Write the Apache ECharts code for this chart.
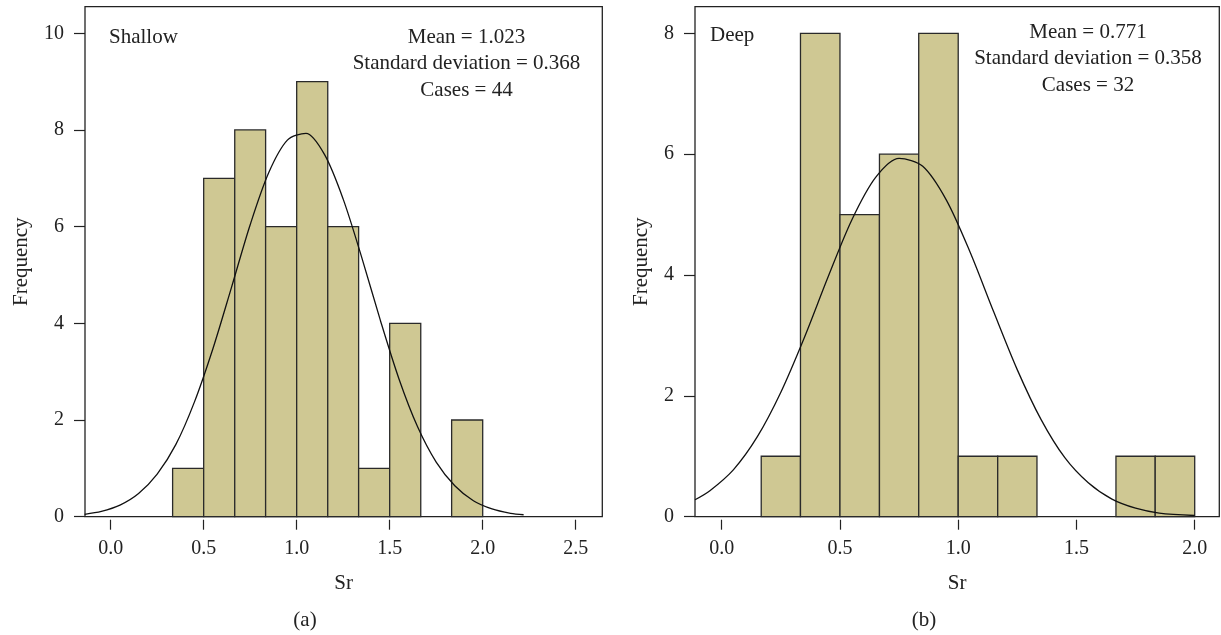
<!DOCTYPE html>
<html>
<head>
<meta charset="utf-8">
<script src="https://cdn.jsdelivr.net/npm/echarts@6/dist/echarts.min.js"></script>
<style>
html,body{margin:0;padding:0;background:#fff;}
#chart{width:1221px;height:635px;}
</style>
</head>
<body>
<div id="chart"></div>
<script>
// ---- Data ----
const xTicksShallow = [0.0, 0.5, 1.0, 1.5, 2.0, 2.5];
const yTicksShallow = [0, 2, 4, 6, 8, 10];
const xTicksDeep = [0.0, 0.5, 1.0, 1.5, 2.0];
const yTicksDeep = [0, 2, 4, 6, 8];

const shallowBinEdges = [0.333, 0.5, 0.667, 0.833, 1.0, 1.167, 1.333, 1.5, 1.667, 1.833, 2.0];
const shallowCounts   = [1, 7, 8, 6, 9, 6, 1, 4, 0, 2];

const deepBinEdges = [0.167, 0.333, 0.5, 0.667, 0.833, 1.0, 1.167, 1.333, 1.5, 1.667, 1.833, 2.0];
const deepCounts   = [1, 8, 5, 6, 8, 1, 1, 0, 0, 1, 1];

const shallowCurveX = [-0.14, -0.05, 0.05, 0.15, 0.25, 0.35, 0.45, 0.55, 0.65, 0.75, 0.85, 0.95, 1.05, 1.15, 1.25, 1.35, 1.45, 1.55, 1.65, 1.75, 1.85, 1.95, 2.05, 2.15, 2.22];
const shallowCurveY = [0.05, 0.11, 0.24, 0.48, 0.88, 1.49, 2.37, 3.48, 4.75, 6.04, 7.12, 7.79, 7.93, 7.49, 6.57, 5.36, 4.06, 2.85, 1.86, 1.13, 0.64, 0.33, 0.16, 0.07, 0.04];

const deepCurveX = [-0.113, -0.05, 0.05, 0.15, 0.25, 0.35, 0.45, 0.55, 0.65, 0.75, 0.85, 0.95, 1.05, 1.15, 1.25, 1.35, 1.45, 1.55, 1.65, 1.75, 1.85, 2.0];
const deepCurveY = [0.28, 0.43, 0.78, 1.32, 2.06, 2.97, 3.97, 4.91, 5.61, 5.93, 5.80, 5.24, 4.38, 3.39, 2.43, 1.61, 0.98, 0.56, 0.29, 0.14, 0.06, 0.02];

const shallowStats = ['Mean = 1.023', 'Standard deviation = 0.368', 'Cases = 44'];
const deepStats = ['Mean = 0.771', 'Standard deviation = 0.358', 'Cases = 32'];

// ---- Build ----
const FONT = '"Liberation Serif", "Times New Roman", serif';
const TXT = '#222';
const BAR_FILL = '#cfc893';
const BAR_EDGE = '#2a2a2a';

function histData(edges, counts) {
  const out = [];
  for (let i = 0; i < counts.length; i++) {
    if (counts[i] > 0) out.push([edges[i], edges[i + 1], counts[i]]);
  }
  return out;
}
function pairs(xs, ys) { return xs.map((x, i) => [x, ys[i]]); }

function renderHist(params, api) {
  const p0 = api.coord([api.value(0), 0]);
  const p1 = api.coord([api.value(1), api.value(2)]);
  return {
    type: 'rect',
    shape: { x: p0[0], y: p1[1], width: p1[0] - p0[0], height: p0[1] - p1[1] },
    style: { fill: BAR_FILL, stroke: BAR_EDGE, lineWidth: 1.3 }
  };
}

function xAxisCfg(gridIndex, min, max, ticks) {
  return {
    type: 'value', gridIndex, min, max, offset: 3,
    splitLine: { show: false },
    axisLine: { show: false, onZero: false },
    axisTick: { show: true, length: 10, customValues: ticks, lineStyle: { color: '#222', width: 1.2 } },
    axisLabel: { customValues: ticks, margin: 19, fontFamily: FONT, fontSize: 20, color: TXT,
                 formatter: v => v.toFixed(1) },
    name: 'Sr', nameLocation: 'middle', nameGap: 53,
    nameTextStyle: { fontFamily: FONT, fontSize: 21, color: TXT }
  };
}
function yAxisCfg(gridIndex, max, ticks, nameGap) {
  return {
    type: 'value', gridIndex, min: 0, max,
    splitLine: { show: false },
    axisLine: { show: false, onZero: false },
    axisTick: { show: true, length: 11, customValues: ticks, lineStyle: { color: '#222', width: 1.2 } },
    axisLabel: { customValues: ticks, margin: 21, fontFamily: FONT, fontSize: 20, color: TXT },
    name: 'Frequency', nameLocation: 'middle', nameGap, nameRotate: 90,
    nameTextStyle: { fontFamily: FONT, fontSize: 21, color: TXT }
  };
}

function textEl(text, x, y, align) {
  return { type: 'text', x, y, silent: true,
    style: { text, fill: TXT, font: '21px ' + FONT, textAlign: align, textVerticalAlign: 'middle' } };
}

const graphics = [
  textEl('Shallow', 109, 37, 'left'),
  textEl(shallowStats[0], 466.5, 37, 'center'),
  textEl(shallowStats[1], 466.5, 63.5, 'center'),
  textEl(shallowStats[2], 466.5, 90, 'center'),
  textEl('Deep', 710, 35, 'left'),
  textEl(deepStats[0], 1088, 32, 'center'),
  textEl(deepStats[1], 1088, 58.5, 'center'),
  textEl(deepStats[2], 1088, 85, 'center'),
  textEl('(a)', 305, 620, 'center'),
  textEl('(b)', 924, 620, 'center')
];

const option = {
  animation: false,
  backgroundColor: '#fff',
  grid: [
    { left: 85, top: 6.7, right: 618.7, bottom: 118.3, show: true, borderColor: '#222', borderWidth: 1.3, backgroundColor: 'transparent' },
    { left: 695, top: 6.7, right: 1.7, bottom: 118.3, show: true, borderColor: '#222', borderWidth: 1.3, backgroundColor: 'transparent' }
  ],
  xAxis: [
    xAxisCfg(0, -0.138, 2.643, xTicksShallow),
    xAxisCfg(1, -0.113, 2.104, xTicksDeep)
  ],
  yAxis: [
    yAxisCfg(0, 10.55, yTicksShallow, 53),
    yAxisCfg(1, 8.44, yTicksDeep, 43)
  ],
  series: [
    { type: 'custom', xAxisIndex: 0, yAxisIndex: 0, renderItem: renderHist,
      encode: { x: [0, 1], y: 2 }, data: histData(shallowBinEdges, shallowCounts) },
    { type: 'line', xAxisIndex: 0, yAxisIndex: 0, smooth: 0.3, showSymbol: false, z: 5,
      lineStyle: { color: '#111', width: 1.3 }, data: pairs(shallowCurveX, shallowCurveY) },
    { type: 'custom', xAxisIndex: 1, yAxisIndex: 1, renderItem: renderHist,
      encode: { x: [0, 1], y: 2 }, data: histData(deepBinEdges, deepCounts) },
    { type: 'line', xAxisIndex: 1, yAxisIndex: 1, smooth: 0.3, showSymbol: false, z: 5,
      lineStyle: { color: '#111', width: 1.3 }, data: pairs(deepCurveX, deepCurveY) }
  ],
  graphic: graphics
};

const chart = echarts.init(document.getElementById('chart'), null, { renderer: 'canvas' });
chart.setOption(option);
</script>
</body>
</html>
